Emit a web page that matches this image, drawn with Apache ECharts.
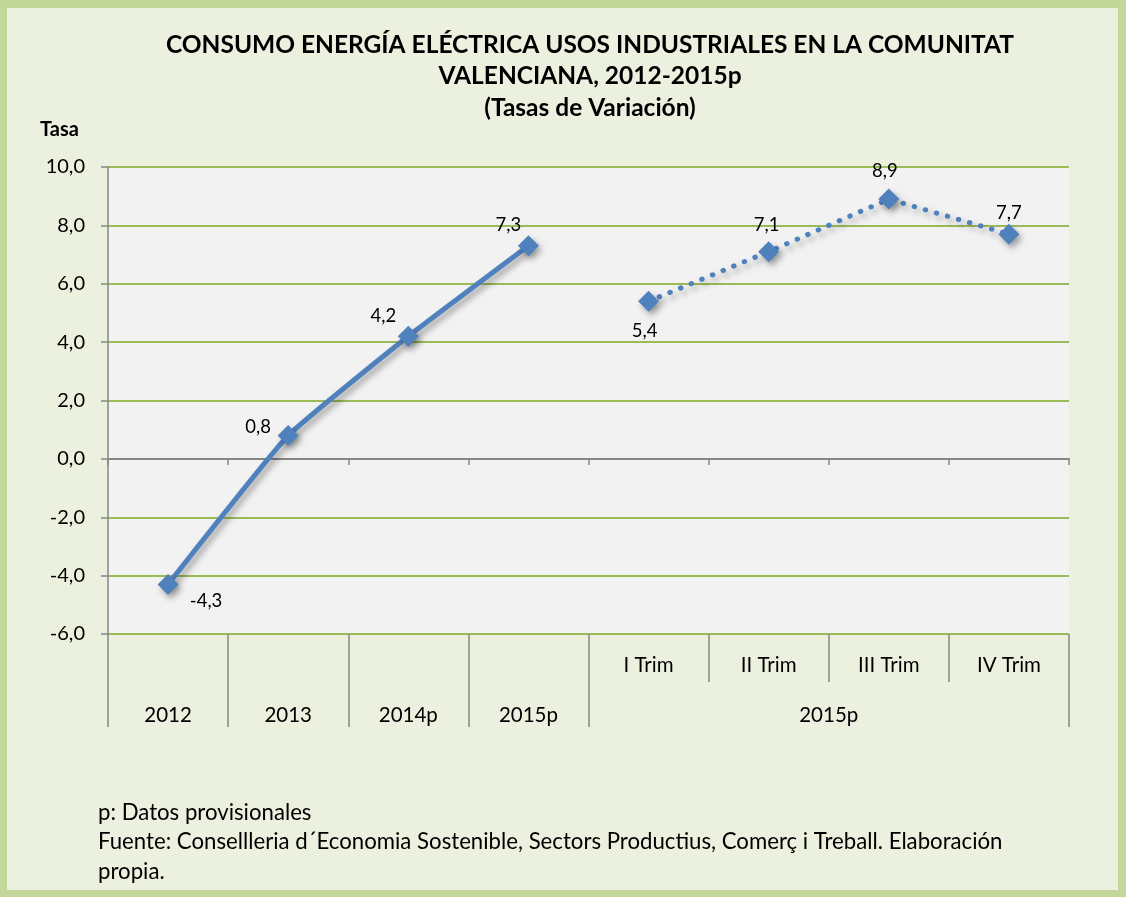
<!DOCTYPE html>
<html>
<head>
<meta charset="utf-8">
<script src="https://cdn.jsdelivr.net/npm/echarts@6/dist/echarts.min.js"></script>
<style>
  html, body { margin: 0; padding: 0; background: #c4d79b; }
  #chart { position: absolute; left: 7px; top: 8px; width: 1111px; height: 882px; }
</style>
</head>
<body>
<div id="chart"></div>
<script>
// data
const years = ['2012', '2013', '2014p', '2015p'];
const yearValues = [-4.3, 0.8, 4.2, 7.3];
const quarters = ['I Trim', 'II Trim', 'III Trim', 'IV Trim'];
const quarterValues = [5.4, 7.1, 8.9, 7.7];
const quarterGroup = '2015p';
const yRange = [-6, 10];
const yStep = 2;

const blue = '#4f81bd';
const gray = '#868686';
const green = '#9bbb59';
const font = 'Lato';

const fmt = v => v.toFixed(1).replace('.', ',');

// label offsets per point (x, y) from marker centre
const yearLabelOff = [[38, 17], [-30, -8], [-25, -20], [-20, -21]];
const quarterLabelOff = [[-4, 30], [-2, -27], [-4, -28], [0, -21]];

const cats = years.concat(quarters);
const nY = years.length, nQ = quarters.length;

const solidData = cats.map((c, i) => i < nY
  ? { value: yearValues[i], label: { offset: yearLabelOff[i] } }
  : '-');
const dotData = cats.map((c, i) => i >= nY
  ? { value: quarterValues[i - nY], label: { offset: quarterLabelOff[i - nY] } }
  : '-');

// bottom row: year labels + one group label spanning the quarters
const row2Labels = {};
years.forEach((y, i) => { row2Labels[i + 0.5] = y; });
row2Labels[nY + nQ / 2] = quarterGroup;
const row2Ticks = years.map((y, i) => i).concat([nY, nY + nQ]);

const shadow = {
  shadowColor: 'rgba(0,0,0,0.35)',
  shadowBlur: 6,
  shadowOffsetX: 3,
  shadowOffsetY: 4
};

const labelStyle = {
  show: true,
  position: 'inside',
  formatter: p => fmt(p.value),
  color: '#000',
  fontFamily: font,
  fontSize: 18.5
};

const chart = echarts.init(document.getElementById('chart'));
chart.setOption({
  backgroundColor: '#ebf1de',
  animation: false,
  graphic: [
    {
      type: 'text', x: 583, y: 21,
      style: {
        text: 'CONSUMO ENERGÍA ELÉCTRICA USOS INDUSTRIALES EN LA COMUNITAT\nVALENCIANA, 2012-2015p\n(Tasas de Variación)',
        font: 'bold 24.5px Lato', textAlign: 'center', textVerticalAlign: 'top',
        lineHeight: 31.5, fill: '#000'
      }
    },
    {
      type: 'text', x: 33, y: 122,
      style: { text: 'Tasa', font: 'bold 20px Lato', textVerticalAlign: 'middle', fill: '#000' }
    },
    {
      type: 'text', x: 91, y: 790,
      style: {
        text: 'p: Datos provisionales\nFuente: Consellleria d´Economia Sostenible, Sectors Productius, Comerç i Treball. Elaboración\npropia.',
        font: '22.2px Lato', textVerticalAlign: 'top', lineHeight: 29.5, fill: '#000'
      }
    }
  ],
  grid: {
    left: 101, top: 159, width: 961, height: 467,
    show: true, backgroundColor: '#f2f2f2', borderWidth: 0
  },
  xAxis: [
    {
      type: 'category', data: cats, position: 'bottom',
      axisLine: { onZero: true, lineStyle: { color: gray, width: 2 } },
      axisTick: { show: true, interval: 0, length: 6, lineStyle: { color: gray, width: 1.5 } },
      axisLabel: { show: false },
      splitLine: { show: false }
    },
    {
      type: 'category', position: 'bottom', offset: 0,
      data: years.map(() => '').concat(quarters),
      axisLine: { show: false, onZero: false },
      axisTick: { show: true, interval: 0, length: 48, lineStyle: { color: gray, width: 1.5 } },
      axisLabel: { interval: 0, margin: 21, color: '#000', fontFamily: font, fontSize: 20.5 },
      splitLine: { show: false }
    },
    {
      type: 'value', position: 'bottom', offset: 48,
      min: 0, max: nY + nQ,
      axisLine: { show: false, onZero: false },
      axisTick: { show: true, customValues: row2Ticks, length: 45, lineStyle: { color: gray, width: 1.5 } },
      axisLabel: {
        customValues: Object.keys(row2Labels).map(Number),
        formatter: v => row2Labels[v] || '',
        margin: 23, color: '#000', fontFamily: font, fontSize: 20.5
      },
      splitLine: { show: false }
    }
  ],
  yAxis: {
    type: 'value', min: yRange[0], max: yRange[1], interval: yStep,
    axisLine: { show: true, lineStyle: { color: gray, width: 1.5 } },
    axisTick: { show: true, length: 7, lineStyle: { color: gray, width: 1.5 } },
    axisLabel: { formatter: fmt, margin: 23, color: '#000', fontFamily: font, fontSize: 20 },
    splitLine: { lineStyle: { color: green, width: 2 } }
  },
  series: [
    {
      type: 'line', xAxisIndex: 0, data: solidData,
      smooth: 0.12,
      symbol: 'diamond', symbolSize: 21,
      lineStyle: Object.assign({ color: blue, width: 5 }, shadow),
      itemStyle: Object.assign({ color: blue }, shadow),
      label: labelStyle
    },
    {
      type: 'line', xAxisIndex: 0, data: dotData,
      symbol: 'diamond', symbolSize: 21,
      lineStyle: Object.assign({ color: blue, width: 5, type: [0.5, 11], cap: 'round' }, shadow),
      itemStyle: Object.assign({ color: blue }, shadow),
      label: labelStyle
    }
  ]
});
</script>
</body>
</html>
